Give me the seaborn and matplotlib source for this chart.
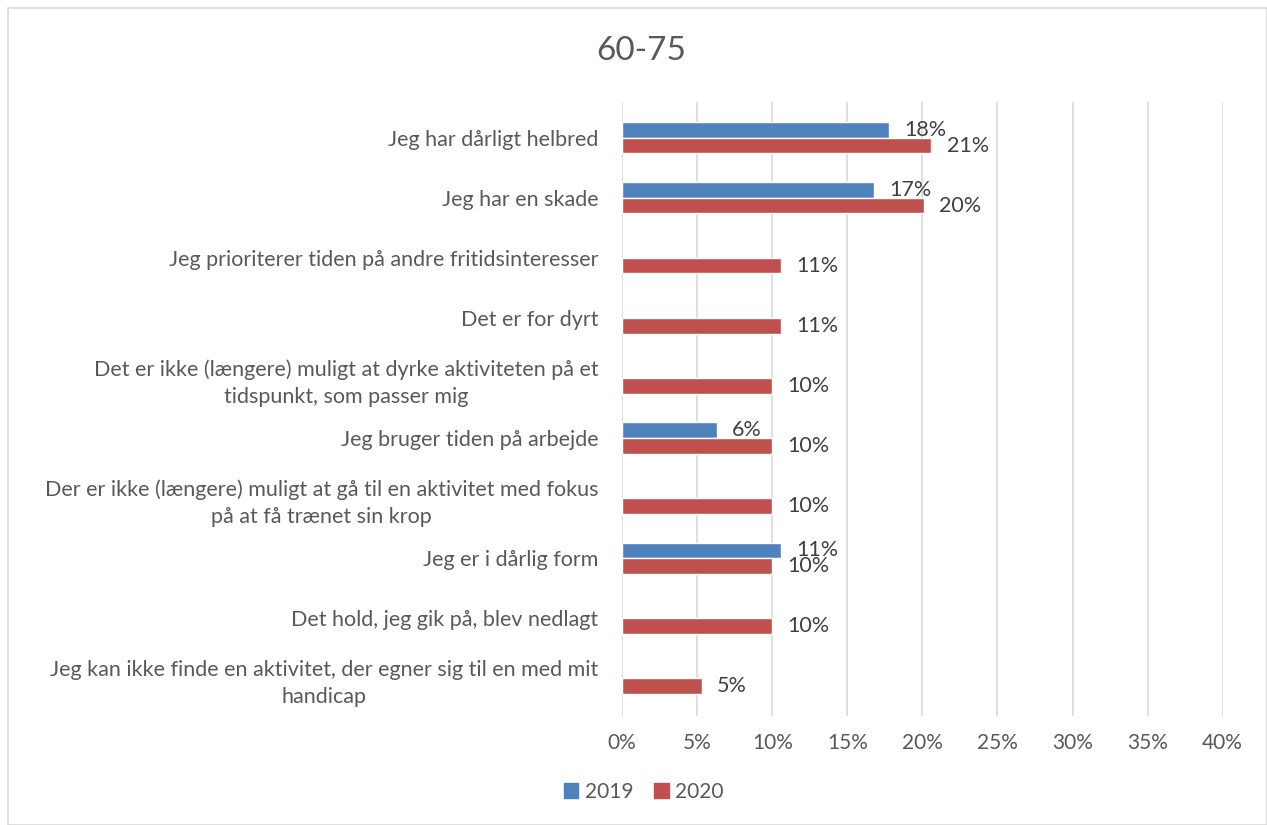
import numpy as np
import pandas as pd
import matplotlib
matplotlib.use('Agg')
import matplotlib.pyplot as plt
import seaborn as sns
from matplotlib.patches import Rectangle, Patch

categories = [
    'Jeg har dårligt helbred',
    'Jeg har en skade',
    'Jeg prioriterer tiden på andre fritidsinteresser',
    'Det er for dyrt',
    'Det er ikke (længere) muligt at dyrke aktiviteten på et\ntidspunkt, som passer mig',
    'Jeg bruger tiden på arbejde',
    'Der er ikke (længere) muligt at gå til en aktivitet med fokus\npå at få trænet sin krop',
    'Jeg er i dårlig form',
    'Det hold, jeg gik på, blev nedlagt',
    'Jeg kan ikke finde en aktivitet, der egner sig til en med mit\nhandicap',
]
values_2019 = [17.8, 16.8, np.nan, np.nan, np.nan, 6.3, np.nan, 10.6, np.nan, np.nan]
values_2020 = [20.6, 20.1, 10.6, 10.6, 10.0, 10.0, 10.0, 10.0, 10.0, 5.3]
years = ['2019', '2020']
x_ticks = [0, 5, 10, 15, 20, 25, 30, 35, 40]

df = pd.DataFrame({
    'Årsag': categories * 2,
    'År': ['2019'] * len(categories) + ['2020'] * len(categories),
    'Andel': values_2019 + values_2020,
})

sns.set_style('white')
plt.rcParams['font.family'] = ['Lato', 'DejaVu Sans']
text_col = '#595959'
palette = {'2019': '#4f81bd', '2020': '#c0504d'}

fig = plt.figure(figsize=(12.67, 8.25), dpi=100)
ax = fig.add_axes([0.491, 0.132, 0.474, 0.744])

sns.barplot(data=df, y='Årsag', x='Andel', hue='År', hue_order=years,
            order=categories, palette=palette, orient='h', width=0.52,
            saturation=1, ax=ax, legend=False)

# data labels (skip missing 2019 bars)
for cont in ax.containers:
    for bar in cont.patches:
        if bar is None:
            continue
        w = bar.get_width()
        if not np.isfinite(w):
            continue
        ax.annotate(f'{round(w):.0f}%', (w, bar.get_y() + bar.get_height() / 2),
                    xytext=(11, 0), textcoords='offset points', va='center',
                    ha='left', fontsize=15.5, color='#404040')

ax.set_xlim(0, 40)
ax.set_xticks(x_ticks)
ax.set_xticklabels([f'{t}%' for t in x_ticks], fontsize=15, color=text_col)
ax.set_ylim(len(categories) - 0.37, -0.59)
ax.tick_params(axis='y', labelsize=15.5, labelcolor=text_col, length=0, pad=17)
ax.tick_params(axis='x', length=0, pad=12)
for lab in ax.get_yticklabels():
    lab.set_multialignment('center')
    lab.set_linespacing(1.4)
ax.set_xlabel('')
ax.set_ylabel('')
ax.grid(axis='x', color='#d9d9d9', linewidth=1.2)
ax.set_axisbelow(True)
for s in ax.spines.values():
    s.set_visible(False)

fig.text(0.506, 0.938, '60-75', ha='center', va='center', fontsize=24, color=text_col)

handles = [Patch(color=palette[y]) for y in years]
fig.legend(handles, years, loc='center', bbox_to_anchor=(0.508, 0.04), ncol=2,
           frameon=False, fontsize=15, labelcolor=text_col, handlelength=0.7,
           handleheight=0.7, handletextpad=0.3, columnspacing=1.0)

fig.patches.append(Rectangle((0.006, 0.0), 0.994, 0.99, transform=fig.transFigure,
                             fill=False, edgecolor='#d9d9d9', linewidth=1.2))

fig.savefig('out.png', dpi=100)
